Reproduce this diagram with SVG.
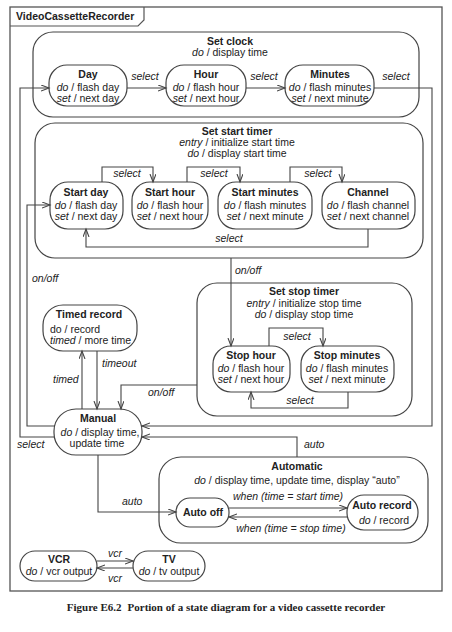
<svg xmlns="http://www.w3.org/2000/svg" width="452" height="632" viewBox="0 0 452 632">
<style>
text{font-family:"Liberation Sans",Arial,sans-serif;font-size:10.5px;fill:#222}
.n{font-weight:bold}
.m{text-anchor:middle}
.i,tspan.i{font-style:italic}
.st{fill:#fff;stroke:#444;stroke-width:1.2}
.cs{fill:none;stroke:#444;stroke-width:1.2}
.c{fill:none;stroke:#444;stroke-width:1.1;marker-end:url(#a)}
.cap{font-family:"Liberation Serif","Times New Roman",serif;font-weight:bold;font-size:11px;text-anchor:middle}
</style>
<defs>
<marker id="a" markerUnits="userSpaceOnUse" markerWidth="10" markerHeight="8" refX="8" refY="3" orient="auto">
<path d="M0,0 L8,3 L0,6" fill="none" stroke="#444" stroke-width="1.1"/>
</marker>
</defs>
<rect width="452" height="632" fill="#fff"/>
<g id="frame">
<rect x="10" y="7" width="432" height="584" fill="none" stroke="#555" stroke-width="1.3"/>
<path d="M10,26 H138 L144,20 V7" fill="none" stroke="#555" stroke-width="1.2"/>
<text x="16" y="20" class="n">VideoCassetteRecorder</text>
</g>
<g id="set-clock">
<rect x="33" y="32" width="386" height="85" rx="20" class="cs"/>
<text x="230" y="45" class="n m">Set clock</text>
<text x="230" y="56" class="m"><tspan class="i">do</tspan> / display time</text>
</g>
<g id="day">
<rect x="49" y="65" width="78" height="41" rx="18" class="st"/>
<text x="88" y="78" class="n m">Day</text>
<text x="88" y="91" class="m"><tspan class="i">do</tspan> / flash day</text>
<text x="88" y="102" class="m"><tspan class="i">set</tspan> / next day</text>
</g>
<g id="hour">
<rect x="166" y="65" width="80" height="41" rx="18" class="st"/>
<text x="206" y="78" class="n m">Hour</text>
<text x="206" y="91" class="m"><tspan class="i">do</tspan> / flash hour</text>
<text x="206" y="102" class="m"><tspan class="i">set</tspan> / next hour</text>
</g>
<g id="minutes">
<rect x="285" y="65" width="89" height="41" rx="18" class="st"/>
<text x="330" y="78" class="n m">Minutes</text>
<text x="330" y="91" class="m"><tspan class="i">do</tspan> / flash minutes</text>
<text x="330" y="102" class="m"><tspan class="i">set</tspan> / next minute</text>
</g>
<g id="set-start-timer">
<rect x="35" y="123" width="388" height="135" rx="20" class="cs"/>
<text x="237" y="135" class="n m">Set start timer</text>
<text x="237" y="146" class="m"><tspan class="i">entry</tspan> / initialize start time</text>
<text x="237" y="157" class="m"><tspan class="i">do</tspan> / display start time</text>
</g>
<g id="start-day">
<rect x="50" y="182" width="73" height="47" rx="18" class="st"/>
<text x="86" y="196" class="n m">Start day</text>
<text x="86" y="209" class="m"><tspan class="i">do</tspan> / flash day</text>
<text x="86" y="220" class="m"><tspan class="i">set</tspan> / next day</text>
</g>
<g id="start-hour">
<rect x="132" y="182" width="76" height="47" rx="18" class="st"/>
<text x="170" y="196" class="n m">Start hour</text>
<text x="170" y="209" class="m"><tspan class="i">do</tspan> / flash hour</text>
<text x="170" y="220" class="m"><tspan class="i">set</tspan> / next hour</text>
</g>
<g id="start-minutes">
<rect x="218" y="182" width="94" height="47" rx="18" class="st"/>
<text x="265" y="196" class="n m">Start minutes</text>
<text x="265" y="209" class="m"><tspan class="i">do</tspan> / flash minutes</text>
<text x="265" y="220" class="m"><tspan class="i">set</tspan> / next minute</text>
</g>
<g id="channel">
<rect x="322" y="182" width="93" height="47" rx="18" class="st"/>
<text x="368" y="196" class="n m">Channel</text>
<text x="368" y="209" class="m"><tspan class="i">do</tspan> / flash channel</text>
<text x="368" y="220" class="m"><tspan class="i">set</tspan> / next channel</text>
</g>
<g id="set-stop-timer">
<rect x="197" y="283" width="215" height="133" rx="20" class="cs"/>
<text x="304" y="295" class="n m">Set stop timer</text>
<text x="304" y="307" class="m"><tspan class="i">entry</tspan> / initialize stop time</text>
<text x="304" y="318" class="m"><tspan class="i">do</tspan> / display stop time</text>
</g>
<g id="stop-hour">
<rect x="213" y="346" width="77" height="46" rx="18" class="st"/>
<text x="251" y="359" class="n m">Stop hour</text>
<text x="251" y="372" class="m"><tspan class="i">do</tspan> / flash hour</text>
<text x="251" y="383" class="m"><tspan class="i">set</tspan> / next hour</text>
</g>
<g id="stop-minutes">
<rect x="301" y="346" width="93" height="46" rx="18" class="st"/>
<text x="347" y="359" class="n m">Stop minutes</text>
<text x="347" y="372" class="m"><tspan class="i">do</tspan> / flash minutes</text>
<text x="347" y="383" class="m"><tspan class="i">set</tspan> / next minute</text>
</g>
<g id="timed-record">
<rect x="43" y="305" width="94" height="46" rx="20" class="st"/>
<text x="89" y="318" class="n m">Timed record</text>
<text x="50" y="333">do / record</text>
<text x="50" y="344"><tspan class="i">timed</tspan> / more time</text>
</g>
<g id="manual">
<rect x="54" y="409" width="88" height="46" rx="22" class="st"/>
<text x="98" y="422" class="n m">Manual</text>
<text x="100" y="436" class="m"><tspan class="i">do</tspan> / display time,</text>
<text x="97" y="447" class="m">update time</text>
</g>
<g id="automatic">
<rect x="159" y="457" width="269" height="86" rx="22" class="cs"/>
<text x="297" y="470" class="n m">Automatic</text>
<text x="297" y="484" class="m"><tspan class="i">do</tspan> / display time, update time, display “auto”</text>
</g>
<g id="auto-off">
<rect x="176" y="498" width="53" height="29" rx="14" class="st"/>
<text x="203" y="516" class="n m">Auto off</text>
</g>
<g id="auto-record">
<rect x="347" y="495" width="71" height="35" rx="17" class="st"/>
<text x="382" y="509" class="n m">Auto record</text>
<text x="384" y="524" class="m"><tspan class="i">do</tspan> / record</text>
</g>
<g id="vcr">
<rect x="20" y="551" width="77" height="30" rx="15" class="st"/>
<text x="59" y="563" class="n m">VCR</text>
<text x="59" y="575" class="m"><tspan class="i">do</tspan> / vcr output</text>
</g>
<g id="tv">
<rect x="133" y="551" width="72" height="30" rx="15" class="st"/>
<text x="169" y="563" class="n m">TV</text>
<text x="169" y="575" class="m"><tspan class="i">do</tspan> / tv output</text>
</g>
<g id="connectors">
<path d="M127,88 H166" class="c"/>
<path d="M246,88 H285" class="c"/>
<path d="M374,88 H432 V426 H142" class="c"/>
<path d="M297,457 V437 H142" class="c"/>
<path d="M54,437 H20 V88 H49" class="c"/>
<path d="M55,426 H27 V205 H50" class="c"/>
<path d="M102,182 V167 H153 V182" class="c"/>
<path d="M187,182 V167 H240 V182" class="c"/>
<path d="M290,182 V167 H342 V182" class="c"/>
<path d="M368,229 V247 H86 V229" class="c"/>
<path d="M231,258 V346" class="c"/>
<path d="M269,346 V328 H323 V346" class="c"/>
<path d="M348,392 V408 H251 V392" class="c"/>
<path d="M197,385 H121 V409" class="c"/>
<path d="M82,409 V351" class="c"/>
<path d="M97,351 V409" class="c"/>
<path d="M229,508 H347" class="c"/>
<path d="M347,517 H229" class="c"/>
<path d="M98,455 V512 H176" class="c"/>
<path d="M97,561 H133" class="c"/>
<path d="M133,568 H97" class="c"/>
<text x="145" y="80" class="i m">select</text>
<text x="264" y="80" class="i m">select</text>
<text x="396" y="80" class="i m">select</text>
<text x="127" y="177" class="i m">select</text>
<text x="214" y="177" class="i m">select</text>
<text x="318" y="177" class="i m">select</text>
<text x="229" y="242" class="i m">select</text>
<text x="32" y="282" class="i">on/off</text>
<text x="235" y="274" class="i">on/off</text>
<text x="297" y="340" class="i m">select</text>
<text x="300" y="404" class="i m">select</text>
<text x="148" y="396" class="i">on/off</text>
<text x="53" y="383" class="i">timed</text>
<text x="102" y="367" class="i">timeout</text>
<text x="17" y="448" class="i">select</text>
<text x="304" y="448" class="i">auto</text>
<text x="122" y="505" class="i">auto</text>
<text x="288" y="500" class="i m">when (time = start time)</text>
<text x="291" y="532" class="i m">when (time = stop time)</text>
<text x="115" y="557" class="i m">vcr</text>
<text x="115" y="582" class="i m">vcr</text>
</g>
<text x="226" y="611" class="cap">Figure E6.2<tspan dx="6">Portion of a state diagram for a video cassette recorder</tspan></text>
</svg>
